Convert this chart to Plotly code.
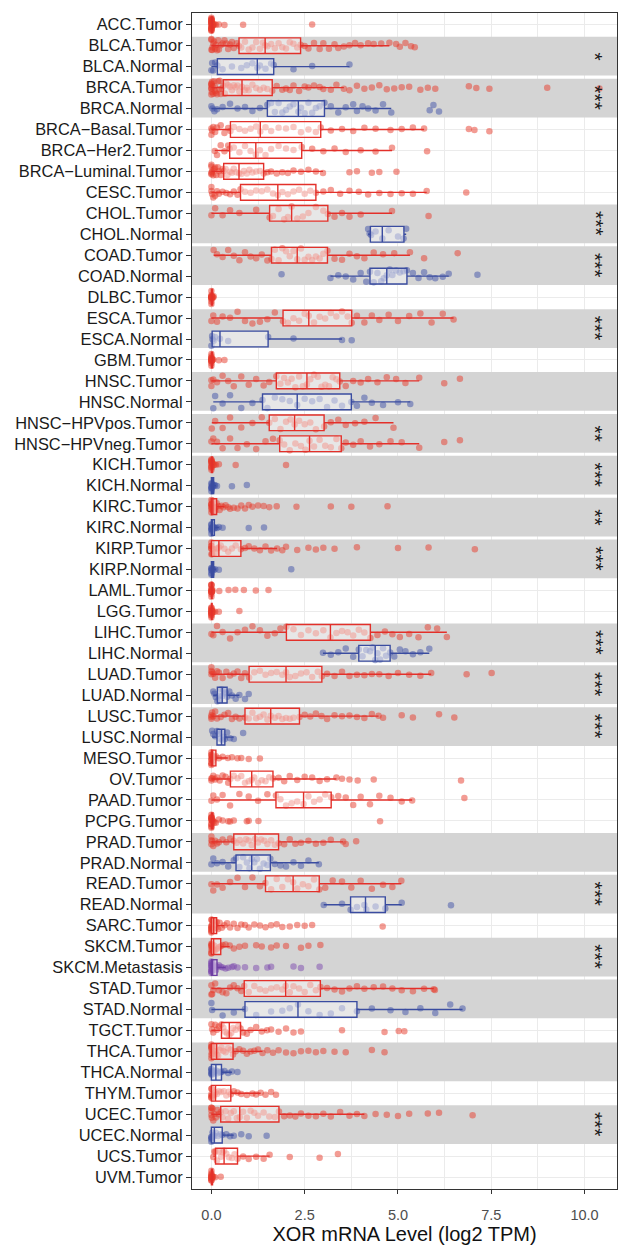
import plotly.graph_objects as go

categories = [
    "ACC.Tumor", "BLCA.Tumor", "BLCA.Normal", "BRCA.Tumor", "BRCA.Normal",
    "BRCA−Basal.Tumor", "BRCA−Her2.Tumor", "BRCA−Luminal.Tumor", "CESC.Tumor",
    "CHOL.Tumor", "CHOL.Normal", "COAD.Tumor", "COAD.Normal", "DLBC.Tumor",
    "ESCA.Tumor", "ESCA.Normal", "GBM.Tumor", "HNSC.Tumor", "HNSC.Normal",
    "HNSC−HPVpos.Tumor", "HNSC−HPVneg.Tumor", "KICH.Tumor", "KICH.Normal",
    "KIRC.Tumor", "KIRC.Normal", "KIRP.Tumor", "KIRP.Normal", "LAML.Tumor",
    "LGG.Tumor", "LIHC.Tumor", "LIHC.Normal", "LUAD.Tumor", "LUAD.Normal",
    "LUSC.Tumor", "LUSC.Normal", "MESO.Tumor", "OV.Tumor", "PAAD.Tumor",
    "PCPG.Tumor", "PRAD.Tumor", "PRAD.Normal", "READ.Tumor", "READ.Normal",
    "SARC.Tumor", "SKCM.Tumor", "SKCM.Metastasis", "STAD.Tumor", "STAD.Normal",
    "TGCT.Tumor", "THCA.Tumor", "THCA.Normal", "THYM.Tumor", "UCEC.Tumor",
    "UCEC.Normal", "UCS.Tumor", "UVM.Tumor",
]

# box statistics (log2 TPM)
lower = [0, 0, 0, 0, 0, 0, 0.09, 0, 0, 0, 4.2, 0.06, 3.19, 0, 0, 0.02, 0, 0, 0.05, 0.01, 0,
         0, 0, 0, 0, 0, 0, 0, 0, 0, 2.99, 0, 0.05, 0, 0.02, 0, 0, 0, 0, 0, 0, 0, 3.01,
         0, 0, 0, 0, 0, 0, 0, 0, 0, 0, 0, 0.05, 0]
q1 = [0, 0.74, 0.16, 0.32, 1.5, 0.51, 0.49, 0.33, 0.78, 1.56, 4.26, 1.61, 4.25, 0, 1.92, 0.02,
      0, 1.74, 1.37, 1.55, 1.83, 0, 0, 0, 0, 0, 0, 0, 0, 2.01, 3.95, 1.01, 0.16, 0.9, 0.15,
      0, 0.51, 1.73, 0, 0.6, 0.66, 1.45, 3.73, 0, 0, 0, 0.88, 0.9, 0.27, 0, 0, 0, 0.25,
      0, 0.11, 0]
median = [0.01, 1.44, 1.23, 0.82, 2.33, 1.31, 1.19, 0.74, 1.78, 2.15, 4.58, 2.3, 4.7, 0.01,
          2.61, 0.23, 0.01, 2.56, 2.3, 2.23, 2.63, 0.01, 0.02, 0.04, 0.02, 0.2, 0.02, 0.01,
          0.01, 3.19, 4.39, 2.0, 0.29, 1.59, 0.27, 0.03, 1.08, 2.47, 0.01, 1.17, 1.08, 2.19,
          4.13, 0.06, 0.06, 0.03, 1.99, 2.32, 0.48, 0.14, 0.12, 0.11, 0.76, 0.08, 0.34, 0.01]
q3 = [0.03, 2.39, 1.67, 1.63, 3.03, 2.93, 2.42, 1.4, 2.8, 3.12, 5.16, 3.11, 5.24, 0.03, 3.76,
      1.52, 0.03, 3.44, 3.75, 3.02, 3.48, 0.03, 0.06, 0.14, 0.08, 0.79, 0.06, 0.02, 0.02,
      4.26, 4.79, 2.96, 0.42, 2.36, 0.36, 0.12, 1.65, 3.21, 0.04, 1.8, 1.58, 2.89, 4.66,
      0.14, 0.25, 0.15, 2.92, 3.9, 0.78, 0.58, 0.27, 0.52, 1.81, 0.29, 0.7, 0.03]
upper = [0.06, 4.77, 3.7, 3.55, 4.82, 5.7, 4.84, 2.99, 5.77, 4.84, 5.22, 5.32, 6.36, 0.06,
         6.49, 3.5, 0.06, 5.57, 5.33, 4.88, 5.57, 0.06, 0.12, 0.35, 0.2, 1.76, 0.12, 0.05,
         0.05, 6.31, 5.84, 5.89, 0.75, 4.48, 0.6, 0.44, 3.35, 5.38, 0.1, 3.53, 2.88, 5.09,
         5.1, 0.35, 0.49, 0.38, 5.96, 6.73, 1.49, 1.37, 0.55, 1.32, 4.1, 0.6, 1.56, 0.06]

# sample points shown as jittered dots, one list per category
points = [
    [0, 0, 0, 0, 0, 0, 0, 0, 0, 0, 0, 0, 0, 0, 0, 0, 0.01, 0.01, 0.02, 0.02, 0.03, 0.04, 0.05, 0.08, 0.12, 0.2, 0.35, 0.85, 2.7],
    [0, 0, 0, 0.02, 0.03, 0.05, 0.07, 0.1, 0.12, 0.15, 0.18, 0.2, 0.25, 0.3, 0.35, 0.4, 0.45, 0.5, 0.55, 0.6, 0.68, 0.74, 0.8, 0.9, 1.0, 1.1, 1.2, 1.3, 1.38, 1.44, 1.5, 1.6, 1.7, 1.8, 1.9, 2.0, 2.1, 2.2, 2.3, 2.39, 2.5, 2.6, 2.75, 2.9, 3.0, 3.15, 3.3, 3.4, 3.55, 3.7, 3.85, 4.0, 4.2, 4.35, 4.55, 4.77, 4.95, 5.05, 5.2, 5.35, 5.45],
    [0, 0.02, 0.05, 0.1, 0.16, 0.3, 0.55, 0.8, 0.95, 1.1, 1.23, 1.3, 1.45, 1.6, 1.67, 2.2, 2.7, 3.7],
    [0, 0, 0, 0, 0, 0, 0.01, 0.02, 0.03, 0.05, 0.07, 0.09, 0.1, 0.12, 0.15, 0.18, 0.2, 0.22, 0.25, 0.28, 0.32, 0.36, 0.4, 0.45, 0.5, 0.55, 0.6, 0.65, 0.7, 0.75, 0.82, 0.9, 0.95, 1.0, 1.1, 1.2, 1.3, 1.4, 1.5, 1.63, 1.75, 1.9, 2.0, 2.1, 2.2, 2.35, 2.5, 2.6, 2.75, 2.9, 3.0, 3.2, 3.35, 3.55, 3.7, 3.9, 4.1, 4.3, 4.5, 4.7, 4.9, 5.1, 5.3, 5.6, 5.8, 6.0, 6.9, 7.1, 7.45, 9.0, 10.4],
    [0, 0.03, 0.08, 0.15, 0.3, 0.5, 0.7, 0.9, 1.1, 1.3, 1.5, 1.6, 1.7, 1.8, 1.9, 2.0, 2.1, 2.2, 2.33, 2.4, 2.5, 2.6, 2.7, 2.8, 2.9, 3.03, 3.2, 3.4, 3.6, 3.8, 3.9, 4.05, 4.2, 4.4, 4.6, 4.82, 5.85, 5.95, 6.1],
    [0, 0, 0.02, 0.05, 0.1, 0.15, 0.25, 0.35, 0.45, 0.51, 0.6, 0.75, 0.9, 1.05, 1.2, 1.31, 1.45, 1.6, 1.8, 2.0, 2.2, 2.4, 2.6, 2.8, 2.93, 3.2, 3.5, 3.8, 4.1, 4.4, 4.8, 5.1, 5.4, 5.7, 6.9, 7.05, 7.45],
    [0.09, 0.15, 0.25, 0.35, 0.45, 0.49, 0.6, 0.75, 0.9, 1.05, 1.19, 1.3, 1.45, 1.6, 1.8, 2.0, 2.2, 2.42, 2.7, 3.0, 3.3, 3.6, 4.0, 4.4, 4.84, 5.78],
    [0, 0, 0, 0, 0.01, 0.03, 0.05, 0.08, 0.1, 0.13, 0.17, 0.2, 0.25, 0.3, 0.33, 0.38, 0.43, 0.5, 0.55, 0.6, 0.66, 0.74, 0.8, 0.87, 0.95, 1.02, 1.1, 1.2, 1.3, 1.4, 1.5, 1.6, 1.75, 1.9, 2.05, 2.2, 2.4, 2.6, 2.8, 2.99, 3.7, 3.9, 4.3, 4.5, 4.96],
    [0, 0, 0.02, 0.05, 0.1, 0.15, 0.2, 0.3, 0.4, 0.5, 0.6, 0.7, 0.78, 0.9, 1.05, 1.2, 1.35, 1.5, 1.65, 1.78, 1.9, 2.05, 2.2, 2.35, 2.5, 2.65, 2.8, 3.0, 3.2, 3.45, 3.7, 3.95, 4.2, 4.5, 4.8, 5.1, 5.4, 5.77, 6.83],
    [0, 0.1, 0.3, 0.5, 0.75, 1.2, 1.56, 1.65, 1.8, 1.95, 2.05, 2.15, 2.3, 2.45, 2.6, 2.8, 3.0, 3.12, 3.3, 3.5, 3.7, 4.0, 4.84, 5.82],
    [4.2, 4.24, 4.28, 4.4, 4.58, 4.75, 5.0, 5.15, 5.22],
    [0.06, 0.15, 0.3, 0.45, 0.6, 0.75, 0.9, 1.05, 1.2, 1.35, 1.5, 1.61, 1.7, 1.8, 1.9, 2.0, 2.1, 2.2, 2.3, 2.4, 2.5, 2.6, 2.7, 2.8, 2.9, 3.0, 3.11, 3.3, 3.5, 3.7, 3.9, 4.1, 4.35, 4.6, 4.9, 5.32, 5.7, 6.6],
    [1.88, 3.19, 3.4, 3.6, 3.8, 4.0, 4.15, 4.25, 4.35, 4.45, 4.55, 4.62, 4.7, 4.78, 4.85, 4.95, 5.05, 5.15, 5.24, 5.4, 5.55, 5.7, 5.85, 6.0, 6.2, 6.36, 7.13],
    [0, 0, 0, 0, 0, 0, 0, 0, 0, 0, 0.01, 0.01, 0.02, 0.03, 0.05, 0.06],
    [0, 0.05, 0.15, 0.3, 0.5, 0.7, 0.9, 1.1, 1.3, 1.5, 1.7, 1.92, 2.05, 2.2, 2.35, 2.5, 2.61, 2.75, 2.9, 3.05, 3.2, 3.35, 3.5, 3.65, 3.76, 3.9, 4.1, 4.3, 4.5, 4.75, 5.0, 5.3, 5.6, 5.9, 6.2, 6.49],
    [0, 0.02, 0.03, 0.06, 0.1, 0.23, 0.45, 1.52, 2.2, 3.5, 3.76],
    [0, 0, 0, 0, 0, 0, 0, 0, 0, 0, 0, 0.01, 0.02, 0.03, 0.05, 0.2, 0.35],
    [0, 0, 0.05, 0.15, 0.3, 0.45, 0.6, 0.8, 1.0, 1.2, 1.4, 1.55, 1.74, 1.85, 1.95, 2.05, 2.15, 2.25, 2.35, 2.45, 2.56, 2.65, 2.75, 2.85, 2.95, 3.05, 3.15, 3.25, 3.35, 3.44, 3.6, 3.8, 4.0, 4.2, 4.45, 4.7, 4.95, 5.2, 5.57, 6.24, 6.66],
    [0.05, 0.1, 0.3, 0.5, 0.8, 1.1, 1.37, 1.5, 1.7, 1.9, 2.1, 2.3, 2.5, 2.7, 2.9, 3.1, 3.3, 3.5, 3.75, 3.9, 4.1, 4.3, 4.6, 5.0, 5.33],
    [0.01, 0.1, 0.3, 0.5, 0.8, 1.1, 1.35, 1.55, 1.7, 1.85, 2.0, 2.12, 2.23, 2.35, 2.5, 2.65, 2.8, 3.02, 3.2, 3.4, 3.6, 3.85, 4.1, 4.4, 4.88],
    [0, 0.05, 0.15, 0.3, 0.5, 0.7, 0.95, 1.2, 1.45, 1.65, 1.83, 1.95, 2.1, 2.25, 2.4, 2.52, 2.63, 2.75, 2.9, 3.05, 3.2, 3.35, 3.48, 3.6, 3.8, 4.0, 4.25, 4.5, 4.8, 5.1, 5.57, 6.24, 6.66],
    [0, 0, 0, 0, 0, 0, 0, 0, 0, 0.01, 0.02, 0.03, 0.05, 0.08, 0.12, 0.2, 0.65, 2.0],
    [0, 0, 0, 0, 0, 0.01, 0.02, 0.03, 0.05, 0.08, 0.1, 0.15, 0.55, 0.95],
    [0, 0, 0, 0, 0, 0, 0, 0.01, 0.02, 0.03, 0.04, 0.06, 0.08, 0.1, 0.12, 0.14, 0.18, 0.22, 0.27, 0.32, 0.38, 0.45, 0.5, 0.6, 0.7, 0.8, 0.9, 1.0, 1.1, 1.25, 1.4, 1.55, 1.75, 2.28, 3.2, 3.75, 4.72],
    [0, 0, 0, 0, 0, 0, 0.01, 0.02, 0.04, 0.06, 0.08, 0.1, 0.15, 0.2, 0.3, 1.0, 1.41],
    [0, 0, 0, 0, 0, 0, 0.02, 0.05, 0.1, 0.15, 0.2, 0.25, 0.35, 0.45, 0.55, 0.65, 0.79, 0.9, 1.0, 1.15, 1.3, 1.45, 1.6, 1.76, 1.9, 2.0, 2.3, 2.6, 2.8, 3.0, 3.3, 3.9, 5.0, 5.82, 7.06],
    [0, 0, 0, 0, 0, 0.01, 0.02, 0.04, 0.06, 0.1, 0.2, 2.14],
    [0, 0, 0, 0, 0, 0, 0, 0, 0, 0, 0, 0.01, 0.02, 0.03, 0.21, 0.46, 0.64, 0.87, 1.19, 1.53],
    [0, 0, 0, 0, 0, 0, 0, 0, 0, 0, 0, 0, 0.01, 0.02, 0.03, 0.05, 0.1, 0.2, 0.75],
    [0, 0.05, 0.15, 0.3, 0.5, 0.7, 0.9, 1.1, 1.3, 1.5, 1.7, 1.85, 2.01, 2.2, 2.4, 2.6, 2.8, 3.0, 3.19, 3.35, 3.5, 3.65, 3.8, 3.95, 4.1, 4.26, 4.45, 4.65, 4.85, 5.05, 5.3, 5.55, 5.8, 6.05, 6.31],
    [2.99, 3.2, 3.4, 3.6, 3.8, 3.95, 4.05, 4.15, 4.25, 4.32, 4.39, 4.45, 4.52, 4.6, 4.68, 4.79, 4.9, 5.05, 5.2, 5.4, 5.6, 5.84],
    [0, 0, 0, 0.02, 0.05, 0.1, 0.15, 0.2, 0.3, 0.4, 0.5, 0.6, 0.7, 0.8, 0.9, 1.01, 1.15, 1.3, 1.45, 1.6, 1.75, 1.9, 2.0, 2.1, 2.25, 2.4, 2.55, 2.7, 2.85, 2.96, 3.1, 3.3, 3.5, 3.7, 3.9, 4.1, 4.3, 4.5, 4.75, 5.0, 5.3, 5.6, 5.89, 6.84, 7.51],
    [0.05, 0.08, 0.12, 0.16, 0.2, 0.23, 0.26, 0.29, 0.32, 0.35, 0.38, 0.42, 0.48, 0.55, 0.65, 0.75, 0.9, 1.0],
    [0, 0, 0, 0.02, 0.05, 0.1, 0.15, 0.25, 0.35, 0.45, 0.55, 0.65, 0.75, 0.9, 1.0, 1.1, 1.2, 1.3, 1.4, 1.5, 1.59, 1.7, 1.8, 1.9, 2.0, 2.1, 2.2, 2.36, 2.5, 2.65, 2.8, 2.95, 3.1, 3.3, 3.5, 3.7, 3.9, 4.1, 4.3, 4.48, 4.6, 5.1, 5.4, 6.1, 6.51],
    [0.02, 0.05, 0.1, 0.15, 0.2, 0.24, 0.27, 0.3, 0.33, 0.36, 0.42, 0.5, 0.6, 0.85],
    [0, 0, 0, 0, 0, 0, 0, 0, 0.01, 0.02, 0.03, 0.05, 0.08, 0.12, 0.2, 0.3, 0.44, 0.55, 0.7, 0.8, 1.0, 1.3],
    [0, 0, 0.02, 0.05, 0.1, 0.15, 0.22, 0.3, 0.38, 0.45, 0.51, 0.6, 0.7, 0.8, 0.9, 1.0, 1.08, 1.15, 1.25, 1.35, 1.45, 1.55, 1.65, 1.8, 1.95, 2.1, 2.3, 2.5, 2.7, 2.9, 3.1, 3.35, 3.5, 3.7, 3.92, 4.35, 6.69],
    [0, 0.05, 0.15, 0.3, 0.5, 0.75, 1.0, 1.25, 1.5, 1.73, 1.85, 2.0, 2.15, 2.3, 2.47, 2.6, 2.75, 2.9, 3.05, 3.21, 3.4, 3.6, 3.8, 4.0, 4.25, 4.5, 4.8, 5.1, 5.38, 6.78],
    [0, 0, 0, 0, 0, 0, 0, 0, 0, 0, 0.01, 0.02, 0.03, 0.05, 0.08, 0.12, 0.2, 0.3, 0.45, 0.5, 0.6, 0.95, 1.0, 1.26, 4.52],
    [0, 0, 0, 0.02, 0.05, 0.1, 0.15, 0.2, 0.3, 0.4, 0.5, 0.6, 0.68, 0.76, 0.85, 0.93, 1.0, 1.08, 1.17, 1.25, 1.33, 1.42, 1.5, 1.6, 1.7, 1.8, 1.95, 2.1, 2.25, 2.4, 2.6, 2.8, 3.0, 3.2, 3.53, 3.6, 3.88],
    [0, 0.05, 0.15, 0.3, 0.45, 0.6, 0.66, 0.75, 0.85, 0.95, 1.02, 1.08, 1.15, 1.22, 1.3, 1.4, 1.5, 1.58, 1.7, 1.85, 2.0, 2.2, 2.4, 2.6, 2.88],
    [0, 0.05, 0.15, 0.3, 0.5, 0.7, 0.9, 1.1, 1.3, 1.45, 1.6, 1.75, 1.9, 2.05, 2.19, 2.3, 2.45, 2.6, 2.75, 2.89, 3.05, 3.25, 3.5, 3.75, 4.0, 4.3, 4.6, 4.85, 5.09],
    [3.01, 3.5, 3.73, 3.9, 4.1, 4.15, 4.4, 4.66, 5.1, 6.42],
    [0, 0, 0, 0, 0, 0, 0, 0, 0.01, 0.02, 0.04, 0.06, 0.08, 0.1, 0.12, 0.14, 0.18, 0.22, 0.28, 0.35, 0.42, 0.5, 0.6, 0.7, 0.8, 0.9, 1.0, 1.15, 1.3, 1.45, 1.6, 1.75, 1.9, 2.1, 2.3, 2.5, 2.7, 4.59],
    [0, 0, 0, 0, 0, 0, 0.01, 0.02, 0.04, 0.06, 0.08, 0.1, 0.15, 0.2, 0.25, 0.3, 0.38, 0.49, 0.6, 0.75, 0.9, 1.2, 1.35, 1.6, 1.75, 2.0, 2.4, 2.6, 2.92],
    [0, 0, 0, 0, 0, 0, 0, 0, 0, 0.01, 0.02, 0.03, 0.05, 0.07, 0.1, 0.12, 0.15, 0.2, 0.25, 0.3, 0.38, 0.45, 0.55, 0.6, 0.7, 0.9, 1.2, 1.5, 1.6, 2.2, 2.4, 2.9],
    [0, 0, 0.02, 0.05, 0.1, 0.2, 0.3, 0.4, 0.5, 0.6, 0.7, 0.8, 0.88, 1.0, 1.15, 1.3, 1.45, 1.6, 1.75, 1.9, 1.99, 2.1, 2.2, 2.35, 2.5, 2.65, 2.8, 2.92, 3.1, 3.3, 3.5, 3.7, 3.9, 4.1, 4.35, 4.6, 4.85, 5.1, 5.4, 5.7, 5.96, 5.99],
    [0, 0.02, 0.3, 0.6, 0.9, 1.2, 1.6, 1.9, 2.1, 2.32, 2.6, 2.9, 3.2, 3.5, 3.9, 4.3, 4.8, 5.2, 5.6, 6.0, 6.4, 6.73],
    [0, 0.02, 0.05, 0.1, 0.15, 0.2, 0.27, 0.32, 0.37, 0.42, 0.48, 0.53, 0.58, 0.65, 0.72, 0.78, 0.85, 0.95, 1.05, 1.2, 1.35, 1.49, 1.6, 1.8, 2.0, 2.2, 2.4, 3.5, 4.64, 5.02, 5.17],
    [0, 0, 0, 0, 0, 0, 0.01, 0.02, 0.04, 0.06, 0.08, 0.11, 0.14, 0.18, 0.22, 0.27, 0.32, 0.38, 0.45, 0.52, 0.58, 0.65, 0.75, 0.85, 0.95, 1.05, 1.15, 1.25, 1.37, 1.5, 1.65, 1.8, 2.0, 2.2, 2.4, 2.6, 2.8, 3.0, 3.3, 3.6, 4.3, 4.64],
    [0, 0, 0, 0, 0, 0.01, 0.03, 0.05, 0.08, 0.12, 0.16, 0.2, 0.24, 0.27, 0.35, 0.45, 0.55, 0.7],
    [0, 0, 0, 0, 0, 0.01, 0.03, 0.05, 0.08, 0.11, 0.15, 0.2, 0.26, 0.33, 0.4, 0.46, 0.52, 0.6, 0.7, 0.8, 0.95, 1.1, 1.2, 1.32, 1.45, 1.6, 1.73],
    [0, 0, 0, 0, 0.01, 0.03, 0.05, 0.08, 0.12, 0.16, 0.2, 0.25, 0.3, 0.38, 0.45, 0.52, 0.6, 0.68, 0.76, 0.85, 0.95, 1.05, 1.15, 1.25, 1.4, 1.55, 1.7, 1.81, 1.95, 2.1, 2.25, 2.4, 2.6, 2.8, 3.0, 3.2, 3.45, 3.7, 3.9, 4.1, 4.4, 4.7, 5.0, 5.3, 5.8, 6.1, 7.0],
    [0, 0, 0, 0, 0.01, 0.03, 0.05, 0.08, 0.12, 0.18, 0.24, 0.29, 0.4, 0.5, 0.6, 0.8, 1.0, 1.48],
    [0.05, 0.08, 0.11, 0.15, 0.2, 0.26, 0.3, 0.34, 0.4, 0.47, 0.55, 0.62, 0.7, 0.85, 1.0, 1.2, 1.4, 1.56, 2.1, 2.9, 3.39],
    [0, 0, 0, 0, 0, 0, 0, 0, 0, 0, 0.01, 0.02, 0.03, 0.05, 0.1, 0.25],
]

# shaded comparison groups (first, last category) and significance labels
band_first = ["BLCA.Tumor", "BRCA.Tumor", "CHOL.Tumor", "COAD.Tumor", "ESCA.Tumor",
              "HNSC.Tumor", "HNSC−HPVpos.Tumor", "KICH.Tumor", "KIRC.Tumor", "KIRP.Tumor",
              "LIHC.Tumor", "LUAD.Tumor", "LUSC.Tumor", "PRAD.Tumor", "READ.Tumor",
              "SKCM.Tumor", "STAD.Tumor", "THCA.Tumor", "UCEC.Tumor"]
band_last = ["BLCA.Normal", "BRCA.Normal", "CHOL.Normal", "COAD.Normal", "ESCA.Normal",
             "HNSC.Normal", "HNSC−HPVneg.Tumor", "KICH.Normal", "KIRC.Normal", "KIRP.Normal",
             "LIHC.Normal", "LUAD.Normal", "LUSC.Normal", "PRAD.Normal", "READ.Normal",
             "SKCM.Metastasis", "STAD.Normal", "THCA.Normal", "UCEC.Normal"]
sig_labels = ["*", "***", "***", "***", "***", "", "**", "***", "**", "***",
              "***", "***", "***", "", "***", "***", "", "", "***"]

x_ticks = [0, 2.5, 5, 7.5, 10]
x_ticklabels = ["0.0", "2.5", "5.0", "7.5", "10.0"]

# ---------------------------------------------------------------
pos = {c: i for i, c in enumerate(categories)}


def group_of(c):
    return c.split(".")[-1]


pt_color = {"Tumor": "#E8392A", "Normal": "#3F51A8", "Metastasis": "#7B48AE"}
line_color = {"Tumor": "#E3302A", "Normal": "#3A4CA0", "Metastasis": "#6E3FA3"}

fig = go.Figure()

# jittered points (library jitter), box invisible
for g in ["Tumor", "Normal", "Metastasis"]:
    xs, ys = [], []
    for c, vals in zip(categories, points):
        if group_of(c) == g:
            xs += vals
            ys += [pos[c]] * len(vals)
    fig.add_trace(go.Box(
        x=xs, y=ys, orientation="h", boxpoints="all", jitter=0.9, pointpos=0,
        width=0.75, line=dict(width=0, color="rgba(0,0,0,0)"),
        fillcolor="rgba(0,0,0,0)", whiskerwidth=0,
        marker=dict(color=pt_color[g], size=6.5, opacity=0.5, line=dict(width=0)),
        hoverinfo="skip", showlegend=False,
    ))

# precomputed boxes on top
for g in ["Tumor", "Normal", "Metastasis"]:
    idx = [i for i, c in enumerate(categories) if group_of(c) == g]
    fig.add_trace(go.Box(
        y=[i for i in idx], orientation="h",
        q1=[q1[i] for i in idx], median=[median[i] for i in idx],
        q3=[q3[i] for i in idx], lowerfence=[lower[i] for i in idx],
        upperfence=[upper[i] for i in idx],
        boxpoints=False, width=0.75, whiskerwidth=0,
        line=dict(width=1.4, color=line_color[g]),
        fillcolor="rgba(255,255,255,0.45)",
        hoverinfo="skip", showlegend=False,
    ))

gap = 0.075
for a, b, lab in zip(band_first, band_last, sig_labels):
    y0, y1 = pos[a] - 0.5 + gap, pos[b] + 0.5 - gap
    fig.add_shape(type="rect", xref="x", yref="y", x0=-1, x1=12, y0=y0, y1=y1,
                  fillcolor="#D4D4D4", line=dict(width=0), layer="between")
    if lab:
        fig.add_annotation(x=10.3, y=(pos[a] + pos[b]) / 2, text=lab, showarrow=False,
                           textangle=90, font=dict(size=21, color="#1A1A1A",
                                                   family="Liberation Sans, Arial, sans-serif"),
                           xanchor="center", yanchor="middle")

fig.update_layout(
    width=618, height=1245,
    margin=dict(l=192, r=1, t=13, b=56, autoexpand=False),
    paper_bgcolor="white", plot_bgcolor="white",
    font=dict(family="Liberation Sans, Arial, sans-serif"),
    boxmode="overlay", showlegend=False,
)
fig.update_xaxes(
    range=[-0.52, 10.87], tickvals=x_ticks, ticktext=x_ticklabels,
    showgrid=True, gridcolor="#EBEBEB", gridwidth=1.2, zeroline=False,
    minor=dict(tickvals=[1.25, 3.75, 6.25, 8.75], showgrid=True, gridcolor="#EBEBEB",
               gridwidth=0.7, ticklen=0),
    showline=True, mirror=True, linecolor="#333333", linewidth=1.2,
    ticks="outside", ticklen=4, tickcolor="#333333", tickwidth=1.1,
    tickfont=dict(size=14.5, color="#4D4D4D"), ticklabelstandoff=8,
    title=dict(text="XOR mRNA Level (log2 TPM)", font=dict(size=20, color="#111111"),
               standoff=4),
    automargin=False,
)
fig.update_yaxes(
    range=[55.57, -0.56], tickvals=list(range(len(categories))), ticktext=categories,
    showgrid=True, gridcolor="#EBEBEB", gridwidth=1.1, zeroline=False,
    showline=True, mirror=True, linecolor="#333333", linewidth=1.2,
    ticks="outside", ticklen=5, tickcolor="#333333", tickwidth=1.1,
    tickfont=dict(size=16.4, color="#1A1A1A"), automargin=False,
)

fig.write_html(
    "out.html",
    config={"displayModeBar": False},
    post_script="document.body.style.margin='0';document.body.style.overflow='hidden';",
)
